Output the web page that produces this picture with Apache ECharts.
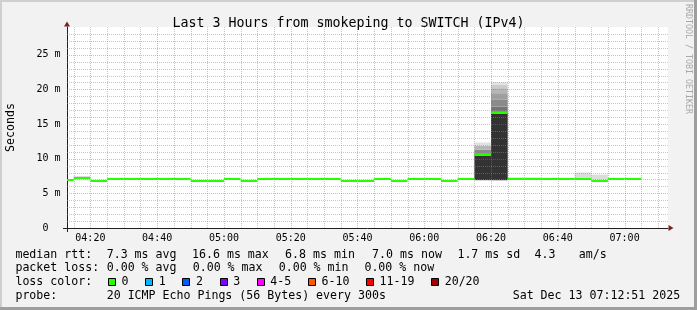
<!DOCTYPE html>
<html><head><meta charset="utf-8">
<script src="https://cdn.jsdelivr.net/npm/echarts@6/dist/echarts.min.js"></script>
<style>html,body{margin:0;padding:0;background:#f2f2f2}#c{width:697px;height:310px}</style>
</head><body><div id="c"></div>
<script>
// ---------------- data ----------------
const binEnd = ['04:15','04:20','04:25','04:30','04:35','04:40','04:45','04:50','04:55','05:00',
                '05:05','05:10','05:15','05:20','05:25','05:30','05:35','05:40','05:45','05:50',
                '05:55','06:00','06:05','06:10','06:15','06:20','06:25','06:30','06:35','06:40',
                '06:45','06:50','06:55','07:00','07:05'];
const median = [6.95,7.15,6.85,7.0,7.0,7.0,7.0,7.0,6.85,6.85,
                7.0,6.85,7.0,7.0,7.0,7.0,7.0,6.85,6.85,7.0,
                6.85,7.0,7.0,6.85,7.0,10.56,16.6,7.0,7.0,7.0,
                7.0,7.0,6.85,7.0,7.0];
const smokeTop = [null,7.5,null,null,7.2,7.2,7.2,7.2,null,null,
                  null,null,null,7.2,7.2,null,null,null,null,null,
                  null,null,null,null,null,null,null,7.3,7.3,null,
                  7.2,8.0,7.7,null,null];
const spikeBins = ['06:20','06:25'];
const spikeLow = [6.9, 6.9];
const spikeBands = [[10.7,11.28,11.86,12.34],
                    [16.8,17.52,18.49,19.45,20.17,20.65,21.04]];
const xTicks = ['04:20','04:40','05:00','05:20','05:40','06:00','06:20','06:40','07:00'];
const yTicks = [0,5,10,15,20,25];
const yTickLabels = ['0','5 m','10 m','15 m','20 m','25 m'];
const titleText = 'Last 3 Hours from smokeping to SWITCH (IPv4)';
const rttStats = ['7.3 ms avg','16.6 ms max','6.8 ms min','7.0 ms now','1.7 ms sd','4.3','am/s'];
const lossStats = ['0.00 % avg','0.00 % max','0.00 % min','0.00 % now'];
const lossLabels = ['0','1','2','3','4-5','6-10','11-19','20/20'];
const probeText = '20 ICMP Echo Pings (56 Bytes) every 300s';
const dateText = 'Sat Dec 13 07:12:51 2025';

// ---------------- styles ----------------
const MONO = '"DejaVu Sans Mono", monospace';
const lossColors = ['#26ff00','#00b8ff','#0059ff','#7e00ff','#ff00ff','#ff5500','#ff0000','#a10000'];
const GRID = 'rgba(143,143,143,0.5)';
const MGRID = 'rgba(222,79,79,0.45)';
const AXIS = '#202020';
const ARROW = '#801f1f';
const MEDIAN = '#26ff00';

const toMin = s => { const p = s.split(':'); return (+p[0]) * 60 + (+p[1]); };
const STEP = 5;
const X_MIN = toMin('04:13'), X_MAX = toMin('07:13');
const Y_MAX = 29;
const G_LEFT = 67, G_TOP = 27, G_W = 601, G_H = 201;

// smoke rectangles
const smokeItems = [];
binEnd.forEach((t, i) => {
  const e = toMin(t), s = e - STEP;
  if (smokeTop[i] != null) smokeItems.push([s, e, median[i], smokeTop[i], -1]);
});
spikeBins.forEach((t, k) => {
  const i = binEnd.indexOf(t);
  const e = toMin(t), s = e - STEP;
  smokeItems.push([s, e, spikeLow[k], median[i], -2]);
  const b = [median[i]].concat(spikeBands[k]);
  for (let j = 0; j < b.length - 1; j++) {
    smokeItems.push([s, e, b[j], b[j + 1], j / Math.max(1, b.length - 2)]);
  }
});
const medianItems = binEnd.map((t, i) => [toMin(t) - STEP, toMin(t), median[i]]);

// grid lines and tick labels (from axis spec)
const gridItems = [];
for (let m = Math.ceil(X_MIN / 5) * 5; m < X_MAX; m += 5) gridItems.push([0, m, m % 20 === 0 ? 1 : 0]);
for (let v = 1; v < Y_MAX; v++) gridItems.push([1, v, v % 5 === 0 ? 1 : 0]);
const labelItems = [];
xTicks.forEach((t, i) => labelItems.push([0, toMin(t), i]));
yTicks.forEach((v, i) => labelItems.push([1, v, i]));

function clipRect(params, r) {
  const cs = params.coordSys;
  return echarts.graphic.clipRectByRect(r, {x: cs.x, y: cs.y, width: cs.width, height: cs.height});
}
function smokeColor(f) {
  if (f === -1) return '#dcdcdc';
  if (f === -2) return '#333333';
  const g = Math.round(95 + f * 130);
  return 'rgb(' + g + ',' + g + ',' + g + ')';
}

const chart = echarts.init(document.getElementById('c'), null, {renderer: 'canvas'});

// legend layout
const LX0 = 15.4;
const rows = [254.6, 268.1, 281.9, 295.6];
const rttX = [106.7, 192.0, 285.1, 372.1, 457.4, 534.6, 578.8];
const lossX = [106.7, 192.7, 278.7, 364.4];
const g = [];
const txt = (x, y, s) => ({type: 'text', x: x, y: y, silent: true,
  style: {text: s, font: '11.6px ' + MONO, fill: '#000', align: 'left', verticalAlign: 'middle'}});
g.push(txt(LX0, rows[0], 'median rtt:'));
rttStats.forEach((s, i) => g.push(txt(rttX[i], rows[0], s)));
g.push(txt(LX0, rows[1], 'packet loss:'));
lossStats.forEach((s, i) => g.push(txt(lossX[i], rows[1], s)));
g.push(txt(LX0, rows[2], 'loss color:'));
let bx = 108;
lossLabels.forEach((s, i) => {
  g.push({type: 'rect', silent: true, shape: {x: Math.round(bx) + 0.5, y: 278.5, width: 7, height: 7},
          style: {fill: lossColors[i], stroke: '#000', lineWidth: 1}});
  g.push(txt(bx + 13.6, rows[2], s));
  bx += 30.2 + 6.98 * s.length;
});
g.push(txt(LX0, rows[3], 'probe:'));
g.push(txt(106.7, rows[3], probeText));
g.push(txt(512.7, rows[3], dateText));
// y axis title
g.push({type: 'text', x: 11, y: G_TOP + G_H / 2, rotation: Math.PI / 2, silent: true,
        style: {text: 'Seconds', font: '11.6px ' + MONO, fill: '#000', align: 'center', verticalAlign: 'middle'}});
// watermark
g.push({type: 'text', x: 688, y: 4, rotation: -Math.PI / 2, silent: true,
        style: {text: 'RRDTOOL / TOBI OETIKER', font: '8.3px ' + MONO, fill: '#a8a8a8', align: 'left', verticalAlign: 'middle'}});
// axis stubs beyond the origin
g.push({type: 'line', silent: true, shape: {x1: G_LEFT - 4, y1: G_TOP + G_H + 0.5, x2: G_LEFT, y2: G_TOP + G_H + 0.5}, style: {stroke: AXIS, lineWidth: 1}});
g.push({type: 'line', silent: true, shape: {x1: G_LEFT + 0.5, y1: G_TOP + G_H, x2: G_LEFT + 0.5, y2: G_TOP + G_H + 4}, style: {stroke: AXIS, lineWidth: 1}});
// frame shading
g.push({type: 'rect', silent: true, shape: {x: 0, y: 0, width: 697, height: 2}, style: {fill: '#cfcfcf'}});
g.push({type: 'rect', silent: true, shape: {x: 0, y: 0, width: 2, height: 310}, style: {fill: '#cfcfcf'}});
g.push({type: 'rect', silent: true, shape: {x: 0, y: 307, width: 697, height: 3}, style: {fill: '#9e9e9e'}});
g.push({type: 'rect', silent: true, shape: {x: 694, y: 0, width: 3, height: 310}, style: {fill: '#9e9e9e'}});

const hidden = {axisTick: {show: false}, splitLine: {show: false}, minorTick: {show: false},
                minorSplitLine: {show: false}, splitArea: {show: false}, axisLabel: {show: false}};
const option = {
  animation: false,
  backgroundColor: '#f2f2f2',
  title: {text: titleText, left: 'center', top: 11,
          textStyle: {fontFamily: MONO, fontSize: 13.3, fontWeight: 'normal', color: '#000', lineHeight: 16}},
  grid: {left: G_LEFT, top: G_TOP, width: G_W, height: G_H, show: true, backgroundColor: '#ffffff',
         borderWidth: 0, containLabel: false, outerBoundsMode: 'none'},
  xAxis: Object.assign({type: 'value', min: X_MIN, max: X_MAX,
          axisLine: {show: true, lineStyle: {color: AXIS, width: 1}}}, hidden),
  yAxis: Object.assign({type: 'value', min: 0, max: Y_MAX,
          axisLine: {show: true, lineStyle: {color: AXIS, width: 1}}}, hidden),
  series: [
    {type: 'custom', name: 'smoke', z: 2, silent: true, data: smokeItems,
     renderItem: (params, api) => {
       const a = api.coord([api.value(0), api.value(3)]);
       const b = api.coord([api.value(1), api.value(2)]);
       const r = clipRect(params, {x: a[0], y: a[1], width: b[0] - a[0], height: b[1] - a[1]});
       return r ? {type: 'rect', shape: r, style: {fill: smokeColor(api.value(4))}} : null;
     }},
    {type: 'custom', name: 'gridlines', z: 3, silent: true, data: gridItems,
     renderItem: (params, api) => {
       const cs = params.coordSys;
       const kind = api.value(0), v = api.value(1);
       const stroke = api.value(2) ? MGRID : GRID;
       if (kind === 0) {
         const x = Math.round(api.coord([v, 0])[0]) + 0.5;
         return {type: 'line', shape: {x1: x, y1: cs.y, x2: x, y2: cs.y + cs.height},
                 style: {stroke: stroke, lineWidth: 1, lineDash: [1, 1]}};
       }
       const y = Math.round(api.coord([X_MIN, v])[1]) + 0.5;
       return {type: 'line', shape: {x1: cs.x, y1: y, x2: cs.x + cs.width, y2: y},
               style: {stroke: stroke, lineWidth: 1, lineDash: [1, 1]}};
     },
     markPoint: {silent: true, animation: false, label: {show: false},
       data: [
         {coord: [X_MIN, Y_MAX], symbol: 'triangle', symbolSize: [6, 5], symbolOffset: [0, -3], itemStyle: {color: ARROW}},
         {coord: [X_MAX, 0], symbol: 'triangle', symbolSize: [6, 5], symbolRotate: -90, symbolOffset: [3, 0], itemStyle: {color: ARROW}}
       ]}},
    {type: 'custom', name: 'median', z: 4, silent: true, data: medianItems,
     renderItem: (params, api) => {
       const a = api.coord([api.value(0), api.value(2)]);
       const b = api.coord([api.value(1), api.value(2)]);
       const y = Math.round(a[1]) - 1;
       const r = clipRect(params, {x: a[0], y: y, width: b[0] - a[0], height: 2});
       return r ? {type: 'rect', shape: r, style: {fill: MEDIAN}} : null;
     }},
    {type: 'custom', name: 'ticklabels', z: 5, silent: true, data: labelItems,
     renderItem: (params, api) => {
       const cs = params.coordSys;
       const kind = api.value(0), v = api.value(1), i = api.value(2);
       if (kind === 0) {
         const x = api.coord([v, 0])[0];
         return {type: 'text', x: x, y: cs.y + cs.height + 10,
                 style: {text: xTicks[i], font: '10px ' + MONO, fill: '#000', align: 'center', verticalAlign: 'middle'}};
       }
       const y = api.coord([X_MIN, v])[1];
       const s = yTickLabels[i];
       return {type: 'text', x: cs.x - 6.5, y: y,
               style: {text: s.indexOf(' ') < 0 ? s + '  ' : s, font: '10px ' + MONO, fill: '#000', align: 'right', verticalAlign: 'middle'}};
     }}
  ],
  graphic: g
};
chart.setOption(option);
</script></body></html>
